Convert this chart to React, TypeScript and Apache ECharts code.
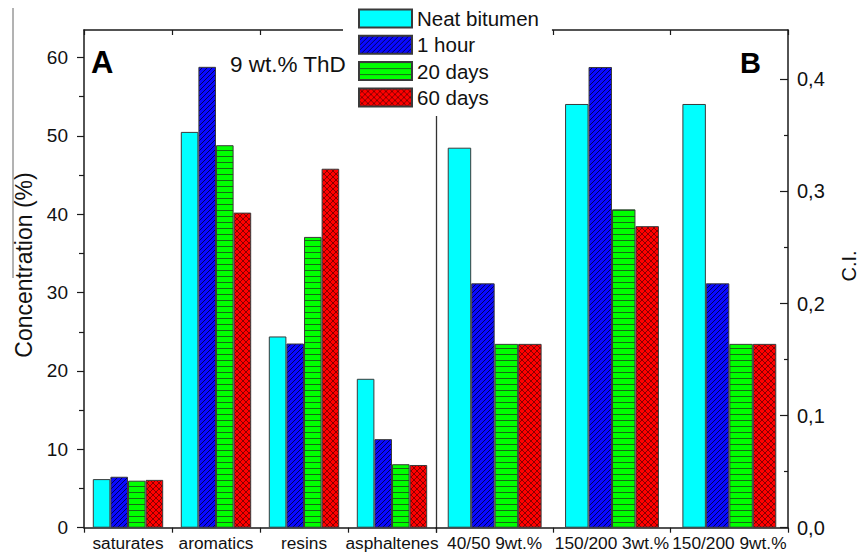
import React, { useEffect, useRef } from "react";
import * as echarts from "echarts";

// ---- data ----
const categoriesA = ["saturates", "aromatics", "resins", "asphaltenes"];
const categoriesB = ["40/50 9wt.%", "150/200 3wt.%", "150/200 9wt.%"];
const seriesNames = ["Neat bitumen", "1 hour", "20 days", "60 days"];

// Panel A: concentration (%)
const neatA = [6.2, 50.5, 24.4, 19.0];
const hourA = [6.5, 58.8, 23.5, 11.3];
const days20A = [6.0, 48.8, 37.1, 8.1];
const days60A = [6.1, 40.2, 45.8, 8.0];

// Panel B: C.I.
const neatB = [0.339, 0.378, 0.378];
const hourB = [0.218, 0.411, 0.218];
const days20B = [0.164, 0.284, 0.164];
const days60B = [0.164, 0.269, 0.164];

const leftTicks = [0, 10, 20, 30, 40, 50, 60];
const leftMinorTicks = [5, 15, 25, 35, 45, 55];
const rightTicks = [0, 0.1, 0.2, 0.3, 0.4];
const rightMinorTicks = [0.05, 0.15, 0.25, 0.35];

const FONT = "'Liberation Sans', Arial, sans-serif";
const AXIS_COLOR = "#1a1a1a";

function makePattern(base: string, draw: (ctx: CanvasRenderingContext2D, s: number) => void, size: number) {
  const c = document.createElement("canvas");
  c.width = size;
  c.height = size;
  const ctx = c.getContext("2d")!;
  ctx.fillStyle = base;
  ctx.fillRect(0, 0, size, size);
  draw(ctx, size);
  return { image: c, repeat: "repeat", imageWidth: size, imageHeight: size } as any;
}

export default function App() {
  const ref = useRef<HTMLDivElement>(null);

  useEffect(() => {
    if (!ref.current) return;
    const chart = echarts.init(ref.current, null, { renderer: "svg" });

    const bluePat = makePattern("#0a0aff", (ctx, s) => {
      ctx.strokeStyle = "#00005a";
      ctx.lineWidth = 1;
      for (const k of [-s, 0, s]) {
        ctx.beginPath();
        ctx.moveTo(k, s);
        ctx.lineTo(k + s, 0);
        ctx.stroke();
      }
    }, 5);
    const greenPat = makePattern("#00ff00", (ctx, s) => {
      ctx.fillStyle = "#156a15";
      ctx.fillRect(0, 0, s, 1);
    }, 6);
    const redPat = makePattern("#ff0000", (ctx, s) => {
      ctx.strokeStyle = "#6a0000";
      ctx.lineWidth = 0.8;
      for (const k of [-s, 0, s]) {
        ctx.beginPath();
        ctx.moveTo(k, s);
        ctx.lineTo(k + s, 0);
        ctx.stroke();
        ctx.beginPath();
        ctx.moveTo(k, 0);
        ctx.lineTo(k + s, s);
        ctx.stroke();
      }
    }, 6);

    const fills: any[] = ["#00ffff", bluePat, greenPat, redPat];
    const dataA = [neatA, hourA, days20A, days60A];
    const dataB = [neatB, hourB, days20B, days60B];

    const barCommon = {
      type: "bar",
      barGap: "0%",
      barCategoryGap: "20%",
      emphasis: { disabled: true },
      silent: true,
    };

    const series: any[] = [
      ...dataA.map((d, i) => ({
        ...barCommon,
        name: seriesNames[i],
        xAxisIndex: 0,
        yAxisIndex: 0,
        data: d,
        itemStyle: { color: fills[i], borderColor: "#3a3a3a", borderWidth: 1 },
      })),
      ...dataB.map((d, i) => ({
        ...barCommon,
        name: seriesNames[i],
        xAxisIndex: 2,
        yAxisIndex: 2,
        data: d,
        itemStyle: { color: fills[i], borderColor: "#3a3a3a", borderWidth: 1 },
      })),
    ];

    const axisLine = { show: true, onZero: false, lineStyle: { color: AXIS_COLOR, width: 1.5 } };

    const catBottom = (grid: number, data: string[]) => ({
      type: "category",
      gridIndex: grid,
      position: "bottom",
      data,
      axisLine,
      axisTick: { show: true, interval: 0, alignWithLabel: false, inside: false, length: 5, lineStyle: { color: AXIS_COLOR, width: 1.2 } },
      axisLabel: { interval: 0, margin: 7, fontSize: 17.3, color: "#111", fontFamily: FONT },
      splitLine: { show: false },
    });
    const catTop = (grid: number, data: string[]) => ({
      type: "category",
      gridIndex: grid,
      position: "top",
      data,
      axisLine,
      axisTick: { show: true, interval: 0, inside: true, length: 5, lineStyle: { color: AXIS_COLOR, width: 1.2 } },
      axisLabel: { show: false },
      splitLine: { show: false },
    });

    const leftMax = 63.5;
    const rightMax = 0.444;

    const option: any = {
      animation: false,
      backgroundColor: "#ffffff",
      textStyle: { fontFamily: FONT },
      grid: [
        { left: 84, right: 861 - 436, top: 30, bottom: 553 - 527.7, containLabel: false, outerBoundsMode: "none" },
        { left: 436, right: 861 - 788, top: 30, bottom: 553 - 527.7, containLabel: false, outerBoundsMode: "none" },
      ],
      legend: {
        data: seriesNames,
        orient: "vertical",
        left: 343,
        top: 0,
        padding: [8, 13, 8, 15],
        itemWidth: 53,
        itemHeight: 18,
        itemGap: 5.3,
        icon: "rect",
        backgroundColor: "#ffffff",
        selectedMode: false,
        textStyle: { fontSize: 20.5, color: "#111", fontFamily: FONT, lineHeight: 18 },
        z: 10,
      },
      xAxis: [catBottom(0, categoriesA), catTop(0, categoriesA), catBottom(1, categoriesB), catTop(1, categoriesB)],
      yAxis: [
        {
          type: "value",
          gridIndex: 0,
          position: "left",
          min: 0,
          max: leftMax,
          axisLine,
          axisTick: { show: true, inside: false, length: 7, customValues: leftTicks, lineStyle: { color: AXIS_COLOR, width: 1.2 } },
          axisLabel: { customValues: leftTicks, margin: 16, fontSize: 19, color: "#111", fontFamily: FONT },
          splitLine: { show: false },
        },
        {
          type: "value",
          gridIndex: 0,
          position: "left",
          min: 0,
          max: leftMax,
          axisLine: { show: false, onZero: false },
          axisTick: { show: true, inside: false, length: 5, customValues: leftMinorTicks, lineStyle: { color: AXIS_COLOR, width: 1.2 } },
          axisLabel: { show: false },
          splitLine: { show: false },
        },
        {
          type: "value",
          gridIndex: 1,
          position: "right",
          min: 0,
          max: rightMax,
          axisLine,
          axisTick: { show: true, inside: true, length: 8, customValues: rightTicks, lineStyle: { color: AXIS_COLOR, width: 1.2 } },
          axisLabel: {
            customValues: rightTicks,
            margin: 9,
            fontSize: 20,
            color: "#111",
            fontFamily: FONT,
            formatter: (v: number) => v.toFixed(1).replace(".", ","),
          },
          splitLine: { show: false },
        },
        {
          type: "value",
          gridIndex: 1,
          position: "right",
          min: 0,
          max: rightMax,
          axisLine: { show: false, onZero: false },
          axisTick: { show: true, inside: true, length: 4, customValues: rightMinorTicks, lineStyle: { color: AXIS_COLOR, width: 1.2 } },
          axisLabel: { show: false },
          splitLine: { show: false },
        },
        {
          type: "value",
          gridIndex: 1,
          position: "left",
          min: 0,
          max: 1,
          axisLine: { show: true, onZero: false, lineStyle: { color: "#333", width: 1.3 } },
          axisTick: { show: false },
          axisLabel: { show: false },
          splitLine: { show: false },
        },
      ],
      series,
      graphic: [
        { type: "line", z: 100, shape: { x1: 13, y1: 8, x2: 13, y2: 278 }, style: { stroke: "#666", lineWidth: 1 } },
        {
          type: "text", z: 100, x: 91, y: 62,
          style: { text: "A", font: `bold 31px ${FONT}`, fill: "#000", textAlign: "left", textVerticalAlign: "middle" },
        },
        {
          type: "text", z: 100, x: 230, y: 64,
          style: { text: "9 wt.% ThD", font: `22.5px ${FONT}`, fill: "#111", textAlign: "left", textVerticalAlign: "middle" },
        },
        {
          type: "text", z: 100, x: 740, y: 63,
          style: { text: "B", font: `bold 29px ${FONT}`, fill: "#000", textAlign: "left", textVerticalAlign: "middle" },
        },
        {
          type: "text", z: 100, x: 24, y: 265, rotation: Math.PI / 2,
          style: { text: "Concentration (%)", font: `23px ${FONT}`, fill: "#111", textAlign: "center", textVerticalAlign: "middle" },
        },
        {
          type: "text", z: 100, x: 849, y: 266, rotation: Math.PI / 2,
          style: { text: "C.I.", font: `20px ${FONT}`, fill: "#111", textAlign: "center", textVerticalAlign: "middle" },
        },
      ],
    };

    chart.setOption(option);
    return () => chart.dispose();
  }, []);

  return (
    <div
      ref={ref}
      style={{ position: "fixed", left: 0, top: 0, width: 861, height: 553, background: "#fff" }}
    />
  );
}
